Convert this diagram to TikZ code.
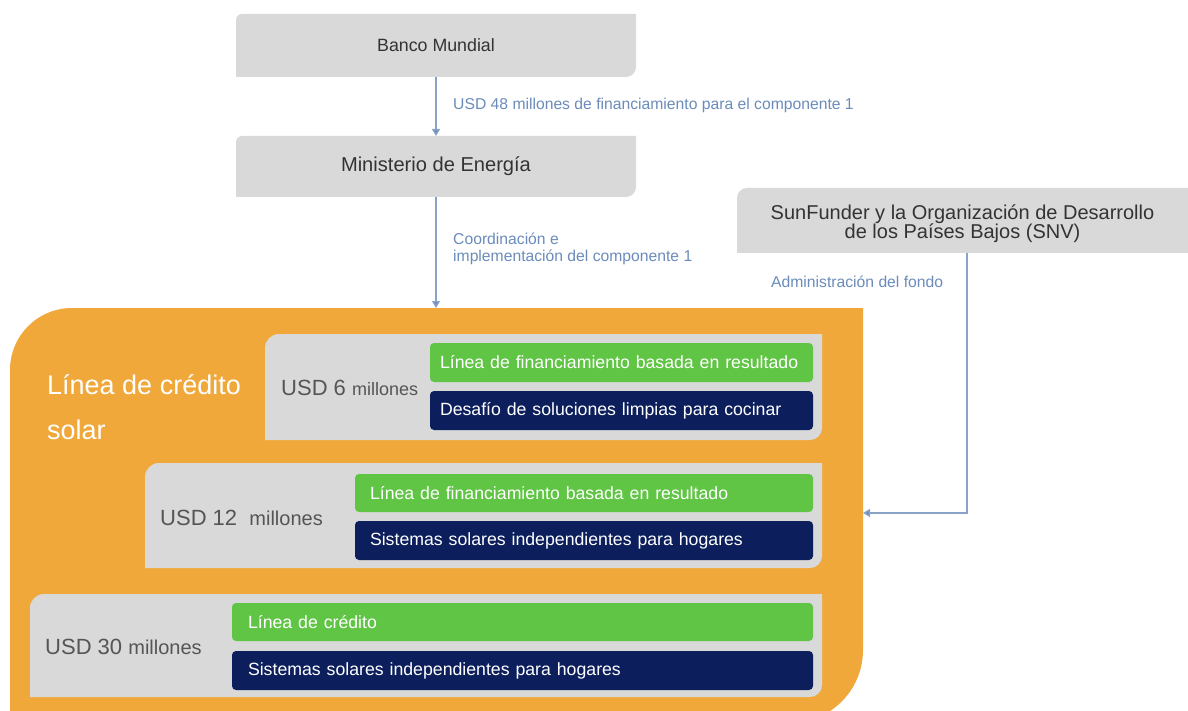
\documentclass[tikz,border=0pt]{standalone}
\usepackage{fontspec}
\setmainfont{Liberation Sans}
\usetikzlibrary{arrows.meta,calc}
\definecolor{boxgray}{HTML}{D9D9D9}
\definecolor{orangefill}{HTML}{F0A83A}
\definecolor{greenbar}{HTML}{60C545}
\definecolor{navybar}{HTML}{0C1F5C}
\definecolor{labelblue}{HTML}{6B8CBA}
\definecolor{linkblue}{HTML}{8AA2C6}
\definecolor{tipblue}{HTML}{6F8FC4}
\definecolor{darktext}{HTML}{333333}
\definecolor{usdtext}{HTML}{555555}
\newcommand\tlbrpath[3]{($(#1.north west)+(0,#2)$) arc[start angle=180,end angle=90,radius=#2pt] -- (#1.north east) -- ($(#1.south east)+(0,-#3)$) arc[start angle=0,end angle=-90,radius=#3pt] -- (#1.south west) -- cycle}
\newcommand\fs[1]{\fontsize{#1pt}{#1pt}\selectfont}
\tikzset{
  base/.style={rectangle, inner sep=0pt, outer sep=0pt, anchor=north west},
  tlbr/.style n args={3}{path picture={\fill[#1] \tlbrpath{path picture bounding box}{#2}{#3};}},
  graybox/.style={base, tlbr={boxgray}{#1}{12}, text=darktext},
  bar/.style={base, rounded corners=4pt, minimum height=39pt, align=left, text=white, font=\fs{17.7}},
  greenb/.style={bar, fill=greenbar},
  navyb/.style={bar, fill=navybar},
  lbl/.style={anchor=west, inner sep=0pt, text=labelblue, font=\fs{15.7}, align=left},
  usd/.style={anchor=west, inner sep=0pt, text=usdtext},
  link/.style={draw=linkblue, line width=1.2pt, -{Triangle[width=8pt,length=7pt,fill=tipblue]}},
}
\begin{document}
\begin{tikzpicture}[x=1pt,y=-1pt]
\useasboundingbox (0,0) rectangle (1188,711);
\fill[white] (0,0) rectangle (1188,711);
\clip (0,0) rectangle (1188,711);

% top boxes
\node[base, tlbr={boxgray}{6}{10}, text=darktext, minimum width=400pt, minimum height=63pt, font=\fs{17.8}] (bm) at (236,14) {Banco Mundial};
\node[base, tlbr={boxgray}{6}{10}, text=darktext, minimum width=400pt, minimum height=61pt, font=\fs{20.1}] (me) at (236,136) {Ministerio de Energía};
\node[base, tlbr={boxgray}{10}{0}, text=darktext, minimum width=451pt, minimum height=65pt, font=\fs{20}, align=center] (sun) at (737,188)
  {\rule{0pt}{21pt}SunFunder y la Organización de Desarrollo\\[-1pt]de los Países Bajos (SNV)};

% orange container
\node[base, tlbr={orangefill}{62}{73}, minimum width=853pt, minimum height=415pt] (lc) at (10,308) {};
\node[anchor=west, inner sep=0pt, text=white, font=\fontsize{27pt}{45pt}\selectfont, align=left] (lctxt) at (47,407.5) {Línea de crédito\\solar};

% tier 1
\node[graybox=14, minimum width=557pt, minimum height=106pt] (g1) at (265,334) {};
\node[usd] (u1) at (281,388) {\fs{22}USD 6 \fs{18}millones};
\node[greenb, minimum width=383pt, text width=363pt, inner xsep=10pt] (b1a) at (430,343) {\mbox{Línea de financiamiento basada en resultado}};
\node[navyb, minimum width=383pt, text width=363pt, inner xsep=10pt] (b1b) at (430,391) {\mbox{Desafío de soluciones limpias para cocinar}};

% tier 2
\node[graybox=14, minimum width=677pt, minimum height=105pt] (g2) at (145,463) {};
\node[usd] (u2) at (160,518) {\fs{22}USD 12 \ \fs{20}millones};
\node[greenb, minimum width=458pt, text width=428pt, inner xsep=15pt, minimum height=38pt] (b2a) at (355,474) {\mbox{Línea de financiamiento basada en resultado}};
\node[navyb, minimum width=458pt, text width=428pt, inner xsep=15pt] (b2b) at (355,521) {\mbox{Sistemas solares independientes para hogares}};

% tier 3
\node[graybox=14, minimum width=792pt, minimum height=103pt] (g3) at (30,594) {};
\node[usd] (u3) at (45,647) {\fs{22}USD 30 \fs{20}millones};
\node[greenb, minimum width=581pt, text width=549pt, inner xsep=16pt, minimum height=38pt] (b3a) at (232,603) {Línea de crédito};
\node[navyb, minimum width=581pt, text width=549pt, inner xsep=16pt] (b3b) at (232,651) {\mbox{Sistemas solares independientes para hogares}};

% connectors
\draw[link] (bm.south) -- (me.north);
\node[lbl] (l1) at (453,105) {USD 48 millones de financiamiento para el componente 1};
\draw[link] (me.south) -- (me.south |- lc.north);
\node[lbl, font=\fontsize{15.7pt}{17pt}\selectfont] (l2) at (453,248.5) {Coordinación e\\implementación del componente 1};
\coordinate (admin) at (863,513);
\draw[link] ([xshift=4.5pt]sun.south) |- (admin);
\node[lbl] (l3) at (771,282) {Administración del fondo};
\end{tikzpicture}
\end{document}
